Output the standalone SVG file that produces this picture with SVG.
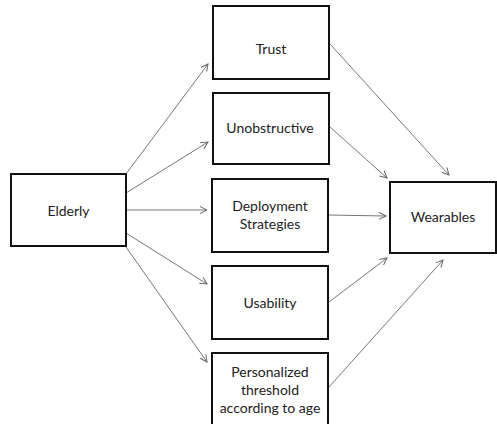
<svg xmlns="http://www.w3.org/2000/svg" width="497" height="424" viewBox="0 0 497 424">
<defs>
<marker id="arr" markerWidth="10" markerHeight="10" refX="8" refY="4" orient="auto" markerUnits="userSpaceOnUse">
<path d="M1,0.5 L8,4 L1,7.5" fill="none" stroke="#666" stroke-width="1"/>
</marker>
<style>
.box{fill:#fff;stroke:#111;stroke-width:2}
.t{font-family:Lato,"Liberation Sans",Arial,sans-serif;font-size:14px;fill:#222;text-anchor:middle}
.c{stroke:#777;stroke-width:1;fill:none;marker-end:url(#arr)}
</style>
</defs>
<rect width="497" height="424" fill="#fff"/>
<g id="connectors">
<line class="c" x1="126" y1="174" x2="208" y2="64"/>
<line class="c" x1="126" y1="193" x2="208" y2="142"/>
<line class="c" x1="126" y1="210" x2="207" y2="210"/>
<line class="c" x1="126" y1="233" x2="207" y2="284"/>
<line class="c" x1="126" y1="247" x2="207" y2="362"/>
<line class="c" x1="330" y1="44" x2="449" y2="175"/>
<line class="c" x1="330" y1="127" x2="387" y2="178"/>
<line class="c" x1="329" y1="215" x2="386" y2="216"/>
<line class="c" x1="329" y1="302" x2="387" y2="258"/>
<line class="c" x1="329" y1="387" x2="443" y2="260"/>
</g>
<g id="elderly">
<rect class="box" x="11" y="174" width="115" height="72"/>
<text class="t" x="68.5" y="216">Elderly</text>
</g>
<g id="trust">
<rect class="box" x="213" y="6" width="116" height="73"/>
<text class="t" x="271" y="54">Trust</text>
</g>
<g id="unobstructive">
<rect class="box" x="213" y="93" width="116" height="71"/>
<text class="t" x="270" y="133">Unobstructive</text>
</g>
<g id="deployment">
<rect class="box" x="212" y="179" width="116" height="73"/>
<text class="t" x="270" y="211">Deployment</text>
<text class="t" x="270" y="229">Strategies</text>
</g>
<g id="usability">
<rect class="box" x="212" y="266" width="116" height="73"/>
<text class="t" x="270" y="308">Usability</text>
</g>
<g id="personalized">
<rect class="box" x="212" y="353" width="116" height="74"/>
<text class="t" x="270" y="377">Personalized</text>
<text class="t" x="270" y="395">threshold</text>
<text class="t" x="270" y="413">according to age</text>
</g>
<g id="wearables">
<rect class="box" x="390" y="182" width="106" height="71"/>
<text class="t" x="443" y="222">Wearables</text>
</g>
</svg>
